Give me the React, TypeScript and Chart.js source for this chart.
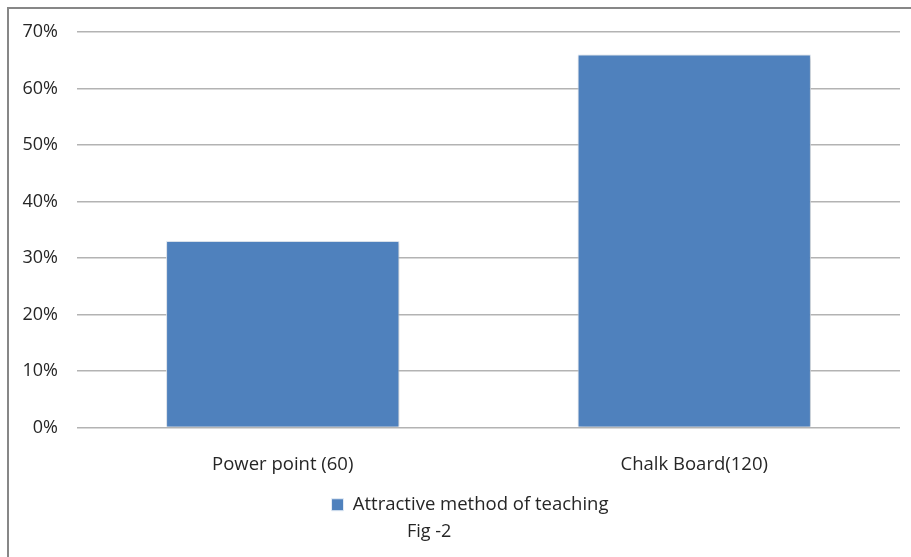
import React, { useEffect, useRef } from "react";
import { Chart, registerables } from "chart.js";

Chart.register(...registerables);

const categories = ["Power point (60)", "Chalk Board(120)"];
const seriesName = "Attractive method of teaching";
const seriesValues = [0.33, 0.66];
const yMin = 0;
const yMax = 0.7;
const yStep = 0.1;
const figureCaption = "Fig -2";

const FONT = "'Open Sans', 'DejaVu Sans', sans-serif";

const barShadow = {
  id: "barShadow",
  beforeDatasetsDraw(chart: any) {
    const ctx = chart.ctx;
    ctx.save();
    ctx.shadowColor = "rgba(0,0,0,0.22)";
    ctx.shadowBlur = 4;
    ctx.shadowOffsetX = 1;
    ctx.shadowOffsetY = 1;
  },
  afterDatasetsDraw(chart: any) {
    chart.ctx.restore();
  },
};

const legendShift = {
  id: "legendShift",
  afterLayout(chart: any) {
    const l = chart.legend;
    if (l) {
      l.left += 20;
      l.right += 20;
    }
  },
};

export default function App() {
  const ref = useRef<HTMLCanvasElement | null>(null);

  useEffect(() => {
    if (!ref.current) return;
    const chart = new Chart(ref.current, {
      type: "bar",
      data: {
        labels: categories,
        datasets: [
          {
            label: seriesName,
            data: seriesValues,
            backgroundColor: "#4F81BD",
            borderColor: "#e4ecf6",
            borderWidth: 1,
            barPercentage: 1,
            categoryPercentage: 0.567,
          },
        ],
      },
      plugins: [barShadow, legendShift],
      options: {
        responsive: false,
        animation: false,
        layout: { padding: { left: 0, right: 11, top: 32, bottom: 33 } },
        plugins: {
          legend: {
            position: "bottom",
            align: "center",
            labels: {
              boxWidth: 12,
              boxHeight: 12,
              padding: 10,
              color: "#262626",
              font: { family: FONT, size: 18.5 },
            },
          },
          tooltip: { enabled: false },
        },
        scales: {
          x: {
            grid: { display: false },
            border: { display: false },
            ticks: {
              color: "#262626",
              padding: 18,
              font: { family: FONT, size: 18.5 },
            },
            afterFit(scale: any) {
              scale.height = 58;
            },
          },
          y: {
            min: yMin,
            max: yMax,
            grid: { color: "#b3b3b3", lineWidth: 1.5, drawTicks: false },
            border: { display: false },
            ticks: {
              stepSize: yStep,
              padding: 19,
              color: "#262626",
              font: { family: FONT, size: 18 },
              callback: (v: any) => Math.round(Number(v) * 100) + "%",
            },
            afterFit(scale: any) {
              scale.width = 77;
            },
          },
        },
      },
    });
    return () => chart.destroy();
  }, []);

  return (
    <div
      style={{
        position: "fixed",
        left: 0,
        top: 0,
        width: 911,
        height: 557,
        background: "#ffffff",
        overflow: "hidden",
      }}
    >
      <canvas
        ref={ref}
        width={911}
        height={557}
        style={{ position: "absolute", left: 0, top: 0, width: 911, height: 557 }}
      />
      <div
        style={{
          position: "absolute",
          left: 7,
          top: 7,
          width: 904,
          height: 2,
          background: "#878787",
        }}
      />
      <div
        style={{
          position: "absolute",
          left: 7,
          top: 7,
          width: 2,
          height: 550,
          background: "#878787",
        }}
      />
      <div
        style={{
          position: "absolute",
          left: 407,
          top: 521,
          fontFamily: FONT,
          fontSize: 18,
          lineHeight: "18px",
          color: "#262626",
          whiteSpace: "nowrap",
        }}
      >
        {figureCaption}
      </div>
    </div>
  );
}
